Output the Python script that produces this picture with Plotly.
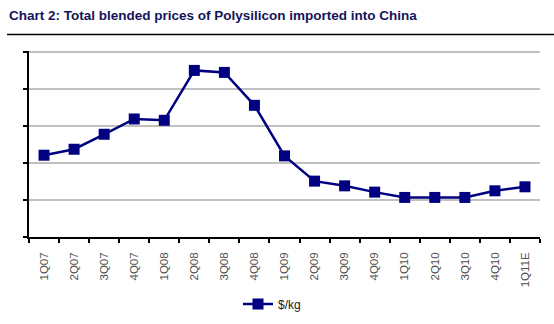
import plotly.graph_objects as go

quarters = ["1Q07", "2Q07", "3Q07", "4Q07", "1Q08", "2Q08", "3Q08", "4Q08", "1Q09",
            "2Q09", "3Q09", "4Q09", "1Q10", "2Q10", "3Q10", "4Q10", "1Q11E"]
price_usd_kg = [110.8, 118.9, 139.2, 159.9, 158.1, 225.7, 223.0, 178.4, 109.9,
                75.7, 69.3, 60.8, 53.6, 53.6, 53.6, 62.6, 68.0]
series_name = "$/kg"
title_text = "Chart 2: Total blended prices of Polysilicon imported into China"

navy = "#000080"
narrow = "Liberation Sans Narrow, Liberation Sans, Arial"

fig = go.Figure()
fig.add_trace(go.Scatter(
    x=quarters, y=price_usd_kg, name=series_name, mode="lines+markers",
    line=dict(color=navy, width=2.5),
    marker=dict(symbol="square", size=11, color=navy),
))

W, H = 554, 324
L, R, T, B = 29, 14, 51, 87
pw, ph = W - L - R, H - T - B
y_top = 252

fig.update_layout(
    width=W, height=H,
    margin=dict(l=L, r=R, t=T, b=B, autoexpand=False),
    paper_bgcolor="white", plot_bgcolor="white",
    showlegend=True,
    legend=dict(
        orientation="h", x=(272 - L) / pw, xanchor="center",
        y=-(304 - (H - B)) / ph, yanchor="middle",
        font=dict(family=narrow, size=12, color="#222"),
        bgcolor="rgba(0,0,0,0)", itemwidth=30,
    ),
    title=dict(
        text="<b>" + title_text + "</b>", xref="container", yref="container",
        x=9 / W, xanchor="left", y=1 - 15 / H, yanchor="middle",
        font=dict(family=narrow, size=13.5, color="#14145a"),
    ),
    xaxis=dict(
        type="category", showgrid=False, showline=True, linecolor="black", linewidth=1.5,
        ticks="outside", ticklen=4, tickcolor="black", tickwidth=1.5, tickson="boundaries",
        tickangle=-90, ticklabelstandoff=9,
        tickfont=dict(family=narrow, size=11.5, color="#505050"),
        range=[-0.5, len(quarters) - 0.5], fixedrange=True,
    ),
    yaxis=dict(
        range=[0, y_top], tick0=0, dtick=50, showticklabels=False, showgrid=True,
        gridcolor="#c0c0c0", gridwidth=1.5, zeroline=False,
        showline=True, linecolor="black", linewidth=1.5,
        ticks="outside", ticklen=4, tickcolor="black", tickwidth=1.5,
    ),
)

# rule beneath the title
fig.add_shape(type="line", xref="paper", yref="paper",
              x0=(7 - L) / pw, x1=(W - L) / pw,
              y0=((H - B) - 34.5) / ph, y1=((H - B) - 34.5) / ph,
              line=dict(color="black", width=1.5))

fig.write_html("out.html")
